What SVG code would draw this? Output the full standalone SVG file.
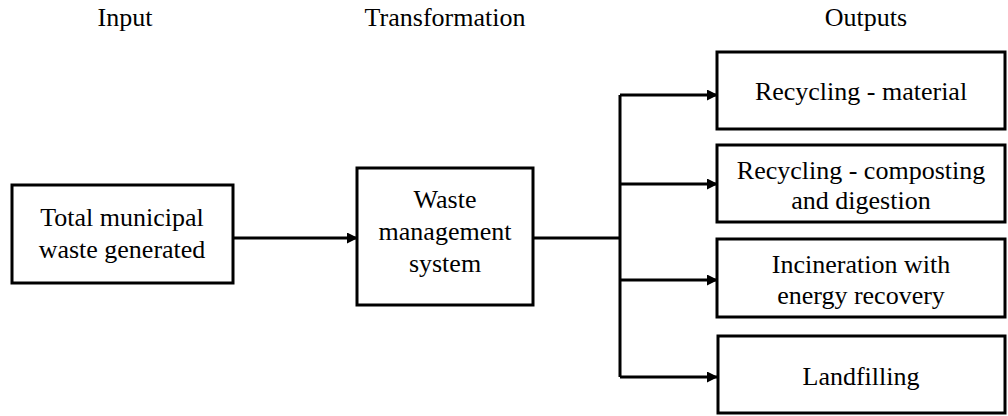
<svg xmlns="http://www.w3.org/2000/svg" width="1008" height="416" viewBox="0 0 1008 416">
<style>
.box{fill:#fff;stroke:#000;stroke-width:3}
.t{font-family:'Liberation Serif','Times New Roman',Times,serif;font-size:26px;fill:#000;text-anchor:middle}
.c{fill:none;stroke:#000;stroke-width:3}
</style>
<defs>
<marker id="ah" markerWidth="11" markerHeight="11" refX="10" refY="5.5" orient="auto" markerUnits="userSpaceOnUse">
<path d="M0,0 L11,5.5 L0,11 Z" fill="#000"/>
</marker>
</defs>
<g id="headers">
<text class="t" x="125" y="26">Input</text>
<text class="t" x="445" y="26">Transformation</text>
<text class="t" x="866" y="26">Outputs</text>
</g>
<g id="connectors">
<line class="c" x1="233" y1="238" x2="357" y2="238" marker-end="url(#ah)"/>
<polyline class="c" points="533,238 620,238"/>
<line class="c" x1="620" y1="95" x2="620" y2="377"/>
<line class="c" x1="620" y1="95" x2="717" y2="95" marker-end="url(#ah)"/>
<line class="c" x1="620" y1="184" x2="717" y2="184" marker-end="url(#ah)"/>
<line class="c" x1="620" y1="280" x2="717" y2="280" marker-end="url(#ah)"/>
<line class="c" x1="620" y1="377" x2="717" y2="377" marker-end="url(#ah)"/>
</g>
<g id="input">
<rect class="box" x="12" y="185" width="221" height="98"/>
<text class="t" x="122" y="226">Total municipal</text>
<text class="t" x="122" y="258">waste generated</text>
</g>
<g id="transformation">
<rect class="box" x="357" y="168" width="176" height="137"/>
<text class="t" x="445" y="208">Waste</text>
<text class="t" x="445" y="240">management</text>
<text class="t" x="445" y="272">system</text>
</g>
<g id="out1">
<rect class="box" x="717" y="52" width="288" height="77"/>
<text class="t" x="861" y="100">Recycling - material</text>
</g>
<g id="out2">
<rect class="box" x="717" y="145" width="288" height="77"/>
<text class="t" x="861" y="179">Recycling - composting</text>
<text class="t" x="861" y="209">and digestion</text>
</g>
<g id="out3">
<rect class="box" x="717" y="239" width="288" height="78"/>
<text class="t" x="861" y="273">Incineration with</text>
<text class="t" x="861" y="304">energy recovery</text>
</g>
<g id="out4">
<rect class="box" x="718" y="336" width="287" height="77"/>
<text class="t" x="861" y="385">Landfilling</text>
</g>
</svg>
